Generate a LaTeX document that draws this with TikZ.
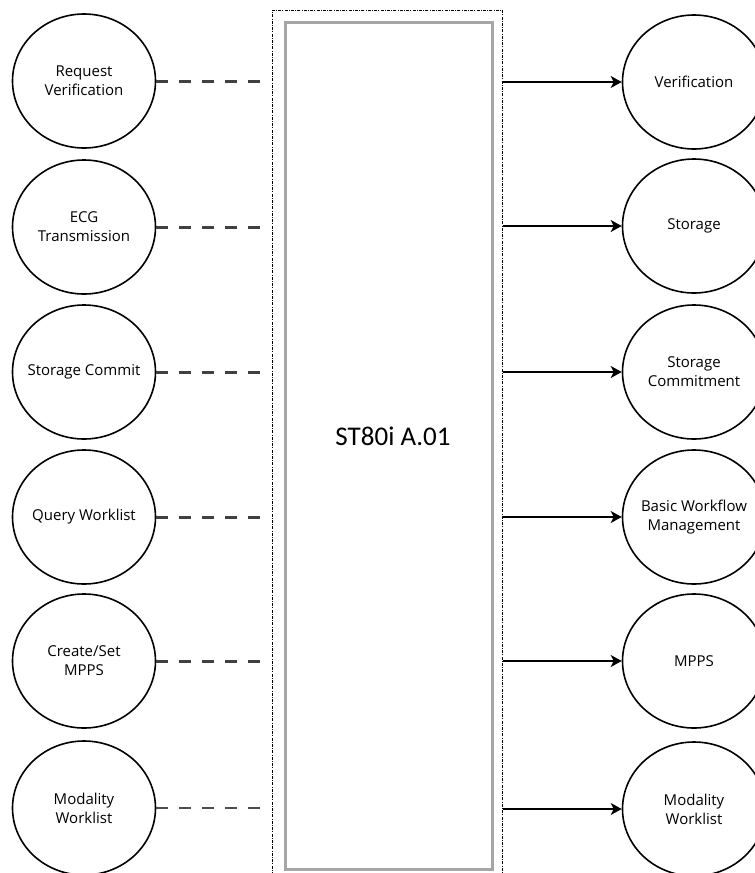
\documentclass[tikz,border=0pt]{standalone}
\usepackage{fontspec}
\setmainfont{Open Sans}
\newfontfamily\boxfont{Carlito}
\usetikzlibrary{arrows.meta,shapes.geometric}

\tikzset{
  usecase/.style={ellipse,draw=black,line width=1.6pt,inner sep=-20pt,
    minimum width=143pt,minimum height=134pt,align=center,
    font=\fontsize{15}{19}\selectfont},
  assoc/.style={draw=black!75,line width=3pt,dash pattern=on 12pt off 11pt,shorten >=9pt},
  provide/.style={draw=black,line width=2.4pt,-{Stealth[length=11pt,width=12pt,inset=3pt]}}
}

\begin{document}
\begin{tikzpicture}[x=1pt,y=-1pt]
\useasboundingbox (0,0) rectangle (755,873);
\clip (0,0) rectangle (755,873);

%draw application box
\node[draw=black,line width=0.8pt,dash pattern=on 3pt off 1.2pt on 1pt off 1.2pt,
      minimum width=230pt,minimum height=880pt,anchor=north west] (outer) at (272,10) {};
\node[draw=black!35,line width=3pt,minimum width=207pt,minimum height=847pt,
      anchor=north west] (inner) at (284,21) {};
\node[font=\boxfont\fontsize{27}{32}\selectfont] (ae) at (393,436) {ST80i A.01};

%draw real world activities
\node[usecase] (L1) at (84,81)  {Request\\Verification};
\node[usecase] (L2) at (84,227) {ECG\\Transmission};
\node[usecase] (L3) at (84,372) {Storage Commit};
\node[usecase] (L4) at (84,517) {Query Worklist};
\node[usecase] (L5) at (84,661) {Create/Set\\MPPS};
\node[usecase] (L6) at (84,808) {Modality\\Worklist};

%draw remote activities
\node[usecase] (R1) at (694,82)  {Verification};
\node[usecase] (R2) at (694,226) {Storage};
\node[usecase] (R3) at (694,372) {Storage\\Commitment};
\node[usecase] (R4) at (694,517) {Basic Workflow\\Management};
\node[usecase] (R5) at (694,661) {MPPS};
\node[usecase] (R6) at (694,809) {Modality\\Worklist};

%draw dashed associations
\foreach \i in {1,...,5}
    {
    \draw[assoc] (L\i.east) -- (L\i.east -| outer.west);
    }
\draw[assoc,line width=1.6pt,draw=black!70] (L6.east) -- (L6.east -| outer.west);

%draw arrows to remote activities
\foreach \i in {1,...,5}
    {
    \draw[provide] (R\i.west -| outer.east) -- (R\i.west);
    }
\draw[provide,line width=1.4pt] (R6.west -| outer.east) -- (R6.west);

\end{tikzpicture}
\end{document}
